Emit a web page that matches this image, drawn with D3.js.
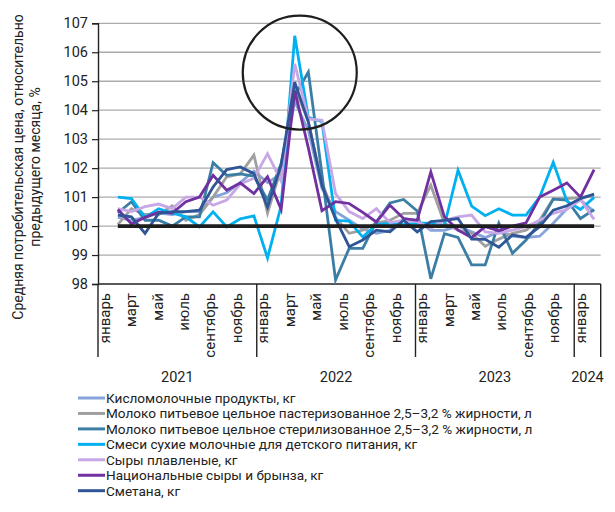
<!DOCTYPE html>
<html>
<head>
<meta charset="utf-8">
<script src="https://cdn.jsdelivr.net/npm/d3@7"></script>
<style>
  html, body { margin: 0; padding: 0; background: #fff; }
  svg text { font-family: Roboto, "Open Sans", "Noto Sans", sans-serif; fill: #222; }
</style>
</head>
<body>
<svg id="chart" width="615" height="512"></svg>
<script>
// Category axis: months grouped by year
const monthNames = ['январь','февраль','март','апрель','май','июнь','июль','август','сентябрь','октябрь','ноябрь','декабрь'];
const years = ['2021', '2022', '2023', '2024'];
const monthsInYear = [12, 12, 12, 2];
const yTicks = [98, 99, 100, 101, 102, 103, 104, 105, 106, 107];

// Monthly price index, % of previous month (36 observations)
const kislomol = [100.3, 100.2, 100.3, 100.45, 100.4, 100.5, 100.5, 101.0, 101.15, 101.5, 101.9, 101.5, 101.8, 104.3, 103.3, 101.3, 100.5, 100.2, 99.9, 99.75, 99.85, 100.25, 100.2, 99.85, 99.85, 100.0, 99.8, 99.6, 99.8, 99.65, 99.6, 99.65, 100.1, 100.6, 100.9, 100.5];
const molokoPast = [100.05, 100.6, 100.4, 100.4, 100.7, 100.2, 100.4, 101.0, 101.7, 101.8, 102.45, 100.45, 102.0, 104.8, 103.6, 101.5, 100.3, 99.75, 99.86, 100.1, 100.2, 100.44, 100.44, 101.41, 100.1, 99.86, 99.75, 99.3, 99.55, 99.75, 99.86, 100.2, 100.95, 100.95, 100.98, 101.05];
const molokoSter = [100.45, 100.84, 100.2, 100.2, 100.0, 100.32, 100.32, 102.19, 101.75, 101.8, 101.72, 100.9, 102.16, 104.5, 105.32, 101.8, 98.14, 99.23, 99.23, 100.15, 100.8, 100.92, 100.52, 98.18, 99.74, 99.61, 98.66, 98.66, 100.1, 99.06, 99.52, 100.1, 100.93, 100.9, 100.26, 100.57];
const smesi = [101.0, 100.95, 100.3, 100.6, 100.45, 100.32, 99.97, 100.49, 99.97, 100.25, 100.35, 98.9, 100.7, 106.57, 103.75, 103.6, 100.2, 100.17, 99.62, 100.05, 100.1, 100.05, 100.1, 100.1, 100.02, 101.93, 100.69, 100.36, 100.6, 100.38, 100.38, 101.0, 102.2, 100.86, 100.57, 100.99];
const syryPlav = [100.6, 100.5, 100.67, 100.76, 100.6, 101.0, 101.0, 100.72, 100.9, 101.45, 101.65, 102.5, 101.55, 105.6, 103.7, 103.65, 101.12, 100.5, 100.26, 100.6, 100.12, 100.2, 100.15, 99.92, 100.2, 100.32, 100.38, 99.8, 99.75, 99.86, 99.98, 100.2, 100.44, 100.57, 100.92, 100.23];
const syryNac = [100.57, 100.08, 100.3, 100.48, 100.45, 100.84, 101.0, 101.75, 101.24, 101.49, 101.12, 101.7, 100.57, 104.68, 102.7, 100.53, 100.84, 100.78, 100.47, 100.14, 100.72, 100.26, 100.2, 101.87, 100.32, 99.86, 99.6, 99.98, 99.84, 100.0, 100.11, 101.0, 101.24, 101.49, 101.0, 101.95];
const smetana = [100.38, 100.32, 99.75, 100.44, 100.5, 100.5, 100.55, 101.35, 101.95, 102.04, 101.81, 100.65, 102.1, 104.97, 103.6, 101.4, 100.25, 99.29, 99.52, 99.86, 99.8, 100.2, 99.8, 100.15, 100.2, 100.26, 99.55, 99.54, 99.27, 99.69, 99.61, 99.98, 100.55, 100.7, 100.95, 101.1];
const baseLevel = 100;

const seriesNames = [
  'Кисломолочные продукты, кг',
  'Молоко питьевое цельное пастеризованное 2,5–3,2 % жирности, л',
  'Молоко питьевое цельное стерилизованное 2,5–3,2 % жирности, л',
  'Смеси сухие молочные для детского питания, кг',
  'Сыры плавленые, кг',
  'Национальные сыры и брынза, кг',
  'Сметана, кг'
];
const seriesValues = [kislomol, molokoPast, molokoSter, smesi, syryPlav, syryNac, smetana];
const seriesColors = ['#86A3DA', '#A0A0A0', '#3B7EA5', '#00B0F0', '#C8A7E6', '#7030A0', '#2F5597'];

const svg = d3.select('#chart');

const plot = { left: 98, right: 600.7, top: 23.3, bottom: 284 };

// Month categories (one slot each)
const categories = [];
years.forEach((y, yi) => {
  for (let m = 0; m < monthsInYear[yi]; m++) categories.push({ year: y, month: m, label: monthNames[m] });
});
const xBand = d3.scaleBand().domain(d3.range(categories.length)).range([plot.left, plot.right]);
const bw = xBand.bandwidth();

// Observations run from the February 2021 slot to the February 2024 slot
const nObs = kislomol.length;
const xObs = d3.scalePoint()
  .domain(d3.range(nObs))
  .range([xBand(1) + bw / 2, xBand(categories.length - 1) + bw / 2]);

const y = d3.scaleLinear().domain([98, 107]).range([plot.bottom, plot.top]);

// Horizontal gridlines
svg.append('g')
  .selectAll('line')
  .data(yTicks.filter(t => t > 98))
  .join('line')
  .attr('x1', plot.left).attr('x2', plot.right)
  .attr('y1', d => y(d)).attr('y2', d => y(d))
  .attr('stroke', '#ABABAB').attr('stroke-width', 1.3);

// Y axis
const yAxis = svg.append('g')
  .attr('transform', `translate(${plot.left},0)`)
  .call(d3.axisLeft(y).tickValues(yTicks).tickSize(6).tickPadding(4).tickFormat(d3.format('d')));
yAxis.select('.domain').attr('stroke', '#222').attr('stroke-width', 1.4);
yAxis.selectAll('.tick line').attr('stroke', '#222').attr('stroke-width', 1.2);
yAxis.selectAll('.tick text').style('font-size', '14.5px').attr('fill', '#222');

// Category axis frame
const frameBottom = 357;
svg.append('line')
  .attr('x1', plot.left).attr('x2', plot.right)
  .attr('y1', plot.bottom).attr('y2', plot.bottom)
  .attr('stroke', '#222').attr('stroke-width', 1.4);

let start = 0;
const yearBounds = years.map((yv, yi) => {
  const s = start;
  start += monthsInYear[yi];
  return { year: yv, x0: xBand(s), x1: yi === years.length - 1 ? plot.right : xBand(start) };
});
const dividers = yearBounds.map(b => b.x0).concat([plot.right]);
svg.append('g').selectAll('line')
  .data(dividers)
  .join('line')
  .attr('x1', d => d).attr('x2', d => d)
  .attr('y1', plot.bottom).attr('y2', frameBottom)
  .attr('stroke', '#222').attr('stroke-width', 1.4);

// Month labels (every second month)
svg.append('g').selectAll('text')
  .data(categories.map((c, i) => ({ ...c, i })).filter(c => c.month % 2 === 0))
  .join('text')
  .attr('transform', d => `translate(${xBand(d.i) + bw / 2},${plot.bottom + 9}) rotate(-90)`)
  .attr('text-anchor', 'end')
  .attr('dominant-baseline', 'central')
  .style('font-size', '15px')
  .text(d => d.label);

// Year labels
svg.append('g').selectAll('text')
  .data(yearBounds)
  .join('text')
  .attr('x', d => (d.x0 + d.x1) / 2)
  .attr('y', 382)
  .attr('text-anchor', 'middle')
  .style('font-size', '14.5px')
  .text(d => d.year);

// Y axis title
const yTitle = svg.append('text')
  .attr('transform', 'translate(18,167) rotate(-90)')
  .attr('text-anchor', 'middle')
  .style('font-size', '14px');
yTitle.append('tspan').attr('x', 0).attr('dy', '0.35em').text('Средняя потребительская цена, относительно');
yTitle.append('tspan').attr('x', 0).attr('dy', '1.2em').text('предыдущего месяца, %');

// Series lines
const line = d3.line().x((d, i) => xObs(i)).y(d => y(d));
svg.append('g').selectAll('path')
  .data(seriesValues)
  .join('path')
  .attr('d', d => line(d))
  .attr('fill', 'none')
  .attr('stroke', (d, i) => seriesColors[i])
  .attr('stroke-width', 2.8)
  .attr('stroke-linejoin', 'miter');

// 100 % reference level
svg.append('path')
  .attr('d', line(d3.range(nObs).map(() => baseLevel)))
  .attr('fill', 'none')
  .attr('stroke', '#1E1E1E')
  .attr('stroke-width', 3.8);

// Highlight ring around the spring 2022 spike
svg.append('circle')
  .attr('cx', xObs(13) + 5)
  .attr('cy', y(105.3))
  .attr('r', 57)
  .attr('fill', 'none')
  .attr('stroke', '#1E1E1E')
  .attr('stroke-width', 2.2);

// Legend
const legend = svg.append('g');
const rowH = 15.45;
const rows = legend.selectAll('g')
  .data(seriesNames)
  .join('g')
  .attr('transform', (d, i) => `translate(0,${398 + i * rowH})`);
rows.append('line')
  .attr('x1', 78).attr('x2', 105)
  .attr('stroke', (d, i) => seriesColors[i])
  .attr('stroke-width', 3);
const legendTexts = rows.append('text')
  .attr('x', 106)
  .attr('dominant-baseline', 'central')
  .style('font-size', '14px')
  .text(d => d);
// fit the longest legend entry to its row width
const longest = legendTexts.nodes()[1];
const w = longest.getComputedTextLength();
const fs = Math.min(15, 14 * 426 / w);
legendTexts.style('font-size', fs + 'px');
</script>
</body>
</html>
